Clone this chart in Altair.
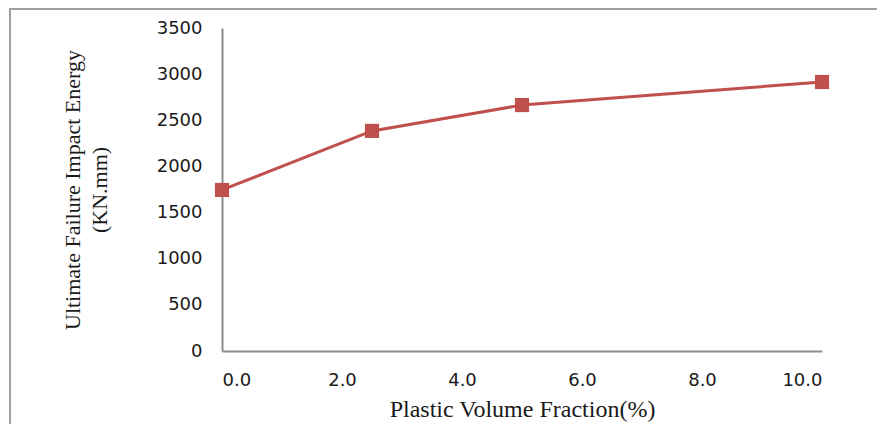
import altair as alt
import pandas as pd

fraction = [0.0, 2.5, 5.0, 10.0]
energy = [1745, 2385, 2665, 2915]

df = pd.DataFrame({"fraction": fraction, "energy": energy})

RED = "#C0504D"

x_enc = alt.X(
    "fraction:Q",
    scale=alt.Scale(domain=[0, 10], nice=False, zero=False),
    axis=alt.Axis(
        values=[0, 2, 4, 6, 8, 10],
        format=".1f",
        title="Plastic Volume Fraction(%)",
        grid=False,
        ticks=False,
        labelPadding=20,
        titlePadding=8,
        titleFontSize=24,
    ),
)
y_enc = alt.Y(
    "energy:Q",
    scale=alt.Scale(domain=[0, 3500], nice=False),
    axis=alt.Axis(
        values=[0, 500, 1000, 1500, 2000, 2500, 3000, 3500],
        format="d",
        title=["Ultimate Failure Impact Energy", "(KN.mm)"],
        grid=False,
        ticks=False,
        labelPadding=20,
        titlePadding=45,
        titleLineHeight=27,
        titleFontSize=22,
    ),
)

line = alt.Chart(df).mark_line(color=RED, strokeWidth=3).encode(x=x_enc, y=y_enc)
pts = alt.Chart(df).mark_point(
    shape="square", filled=True, size=200, color=RED, opacity=1
).encode(x="fraction:Q", y="energy:Q")

frame = alt.Chart(pd.DataFrame({"a": [0]})).mark_rect(
    fillOpacity=0, stroke="#A0A0A0", strokeWidth=2
).encode(
    x=alt.value(-212), x2=alt.value(660), y=alt.value(-19), y2=alt.value(420)
)

chart = alt.layer(frame, line, pts).properties(
    width=600,
    height=323,
    background="white",
    autosize=alt.AutoSizeParams(type="none"),
    padding={"left": 214, "top": 20, "right": 55, "bottom": 73},
).configure_view(stroke=None).configure_axis(
    domainColor="#8C8C8C",
    domainWidth=2,
    labelFont="DejaVu Sans",
    labelFontSize=18,
    labelColor="#1a1a1a",
    titleFont="Liberation Serif",
    titleFontWeight="normal",
    titleColor="#1a1a1a",
)

chart.save("out.html", embed_options={"renderer": "svg", "actions": False})
